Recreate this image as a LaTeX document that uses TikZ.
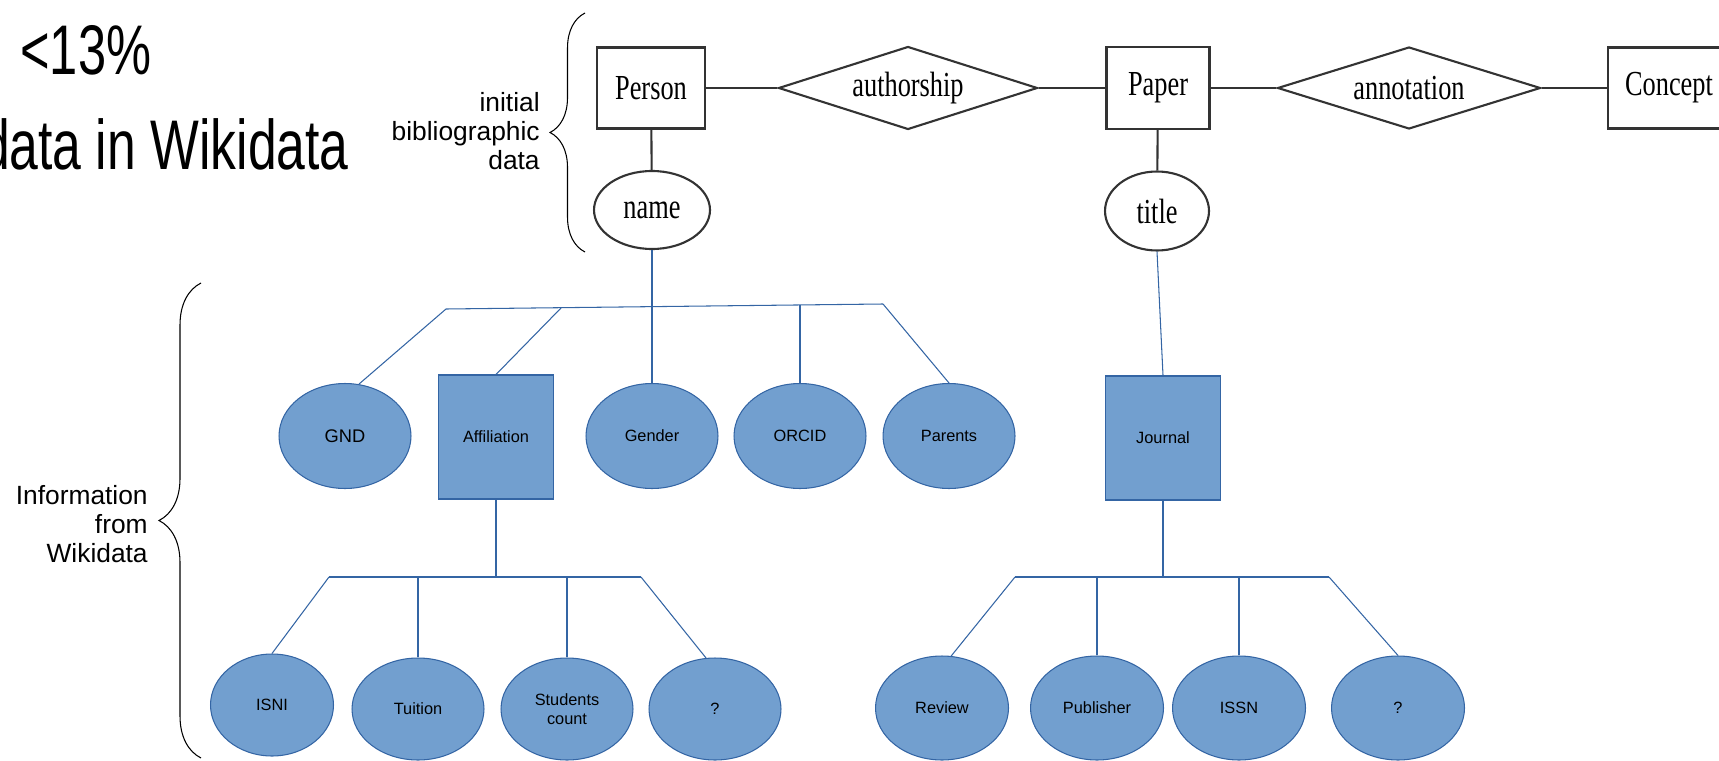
\documentclass[tikz,border=0pt]{standalone}
\usepackage{fontspec}
\setmainfont{Liberation Sans}
\newfontfamily\erfont[FakeStretch=0.75]{Liberation Serif}
\newfontfamily\bigfont[FakeStretch=0.72]{Liberation Sans}
\newfontfamily\widebigfont[FakeStretch=0.735]{Liberation Sans}
\usetikzlibrary{shapes.geometric,decorations.pathreplacing}
\definecolor{wdfill}{HTML}{729FCF}
\definecolor{wdline}{HTML}{3465A4}
\definecolor{erline}{HTML}{333333}
\tikzset{
  entity/.style={draw=erline, line width=1.2pt, rectangle, inner sep=0pt, font=\erfont\fontsize{20}{24}\selectfont},
  relation/.style={draw=erline, line width=1.2pt, diamond, aspect=3.1, inner sep=0pt, font=\erfont\fontsize{20}{24}\selectfont},
  erattr/.style={draw=erline, line width=1.2pt, ellipse, inner sep=0pt, font=\erfont\fontsize{20}{24}\selectfont},
  erlink/.style={draw=erline, line width=1.2pt},
  wdattr/.style={ellipse, fill=wdfill, draw=wdline, line width=0.6pt, inner sep=0pt, align=center,
    minimum width=2.64cm, minimum height=2.1cm, font=\fontsize{9.3}{10.6}\selectfont},
  wdbox/.style={rectangle, fill=wdfill, draw=wdline, line width=0.6pt, inner sep=0pt,
    minimum width=2.3cm, minimum height=2.48cm, font=\fontsize{9.3}{10.6}\selectfont},
  wdlink/.style={draw=wdline, line width=0.6pt},
  curly/.style={draw=black, line width=0.6pt, decorate},
  sidenote/.style={anchor=east, align=right, inner sep=0pt, font=\fontsize{15}{16.5}\selectfont}
}
\begin{document}
\begin{tikzpicture}[x=0.02cm, y=-0.02cm]
    \useasboundingbox (0,0) rectangle (1719,760);
    % headline, cut at the left border
    \node[anchor=base west, inner sep=0pt, font=\bigfont\fontsize{40}{44}\selectfont] (share) at (20,75) {<13\%};
    \node[anchor=base east, inner sep=0pt, font=\widebigfont\fontsize{40}{44}\selectfont] (wdtitle) at (349,170) {data in Wikidata};

    % initial bibliographic data (ER model)
    \node[entity, minimum width=2.16cm, minimum height=1.62cm] (person) at (651,88) {Person};
    \node[relation, minimum width=5.18cm, minimum height=1.66cm] (authorship) at (908,88) {authorship};
    \node[entity, minimum width=2.06cm, minimum height=1.64cm] (paper) at (1158,88) {Paper};
    \node[relation, minimum width=5.26cm, minimum height=1.64cm] (annotation) at (1409,88) {annotation};
    \node[entity, minimum width=2.44cm, minimum height=1.62cm] (concept) at (1669,88) {Concept};
    \node[erattr, minimum width=2.32cm, minimum height=1.56cm] (name) at (652,210) {name};
    \node[erattr, minimum width=2.08cm, minimum height=1.58cm] (title) at (1157,211) {title};
    \draw[erlink] (person) -- (authorship) -- (paper) -- (annotation) -- (concept);
    \draw[erlink] (person) -- (name);
    \draw[erlink] (paper) -- (title);

    % braces and their notes
    \coordinate (topB) at (585,252);
    \coordinate (topT) at (585,13);
    \draw[curly, decoration={brace, amplitude=0.7cm}] (topB) -- (topT);
    \node[sidenote] (initnote) at (540,131) {initial\\bibliographic\\data};
    \coordinate (lowB) at (201,758);
    \coordinate (lowT) at (201,283);
    \draw[curly, decoration={brace, amplitude=0.84cm}] (lowB) -- (lowT);
    \node[sidenote] (wdnote) at (148,524) {Information\\from~\\Wikidata};

    % information from Wikidata, first level
    \node[wdattr, font=\fontsize{10.4}{12}\selectfont] (gnd) at (345,436) {GND};
    \node[wdbox] (aff) at (496,437) {Affiliation};
    \foreach \nm/\x/\txt in {gender/652/Gender, orcid/800/ORCID, parents/949/Parents}
        \node[wdattr] (\nm) at (\x,436) {\txt};
    \node[wdbox] (journal) at (1163,438) {Journal};

    % second level
    \node[wdattr, minimum width=2.46cm, minimum height=2.04cm] (isni) at (272,705) {ISNI};
    \foreach \nm/\x/\txt in {tuition/418/Tuition, students/567/{Students\\count}, unknownA/715/?}
        \node[wdattr, minimum height=2.04cm] (\nm) at (\x,709) {\txt};
    \foreach \nm/\x/\txt in {review/942/Review, publisher/1097/Publisher, issn/1239/ISSN, unknownB/1398/?}
        \node[wdattr, minimum width=2.66cm, minimum height=2.08cm] (\nm) at (\x,708) {\txt};

    % links below name
    \coordinate (pbL) at (446,309);
    \coordinate (pbA) at (561,308);
    \coordinate (pbO) at (800,305);
    \coordinate (pbR) at (883,304);
    \draw[wdlink] (pbL) -- (pbR);
    \draw[wdlink] (pbL) -- (gnd.75);
    \draw[wdlink] (pbA) -- (aff.north);
    \draw[wdlink] (pbO) -- (orcid.north);
    \draw[wdlink] (pbR) -- (parents.north);
    \draw[wdlink] (name.south) -- (gender.north);
    \draw[wdlink] (title.south) -- (journal.north);

    % links below affiliation
    \coordinate (abL) at (329,577);
    \coordinate (abR) at (641,577);
    \draw[wdlink] (aff.south) -- (aff.south |- abL);
    \draw[wdlink] (abL) -- (abR);
    \draw[wdlink] (abL) -- (isni.north);
    \draw[wdlink] (tuition.north |- abL) -- (tuition.north);
    \draw[wdlink] (students.north |- abL) -- (students.north);
    \draw[wdlink] (abR) -- (unknownA.100);

    % links below journal
    \coordinate (jbL) at (1015,577);
    \coordinate (jbR) at (1329,577);
    \draw[wdlink] (journal.south) -- (journal.south |- jbL);
    \draw[wdlink] (jbL) -- (jbR);
    \draw[wdlink] (jbL) -- (review.80);
    \draw[wdlink] (publisher.north |- jbL) -- (publisher.north);
    \draw[wdlink] (issn.north |- jbL) -- (issn.north);
    \draw[wdlink] (jbR) -- (unknownB.north);
\end{tikzpicture}
\end{document}
